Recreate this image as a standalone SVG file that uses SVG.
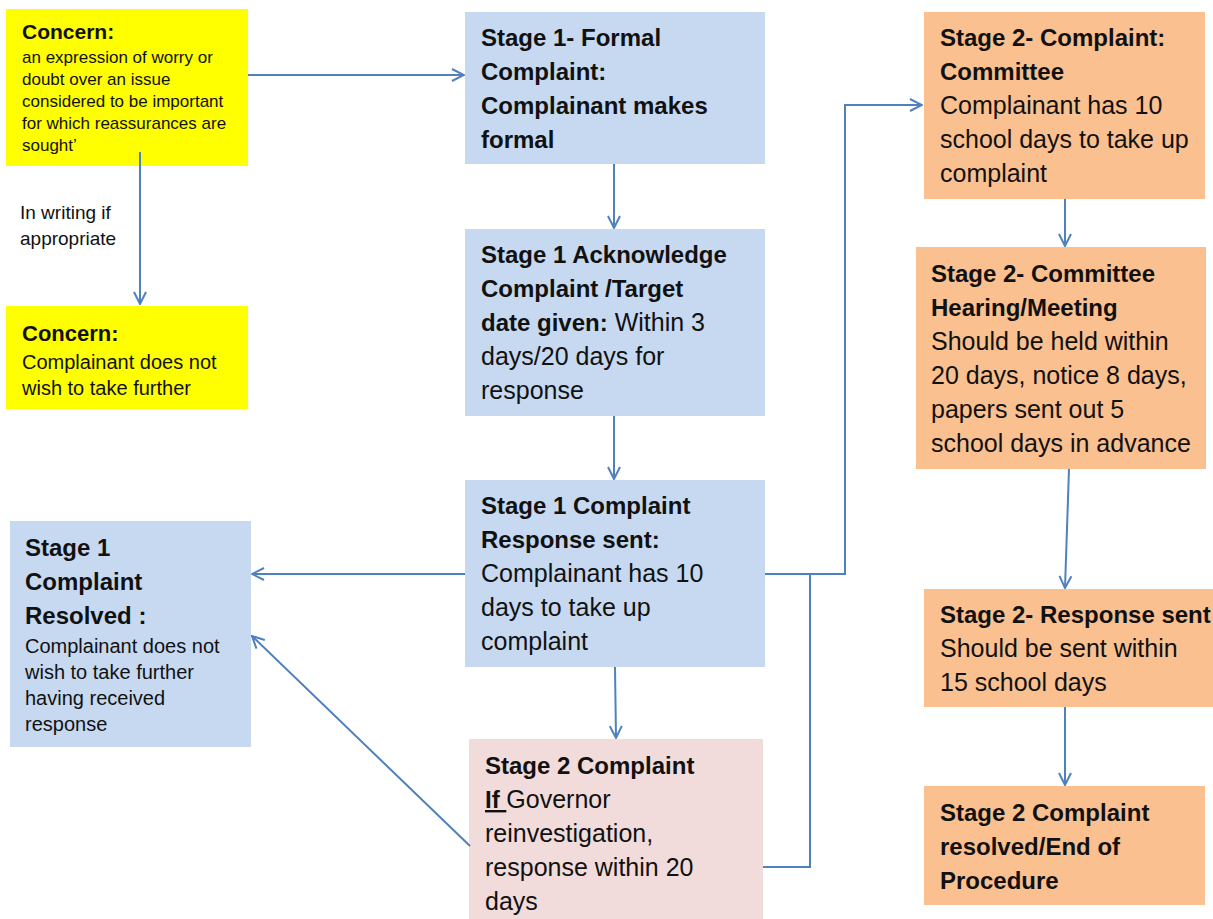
<svg xmlns="http://www.w3.org/2000/svg" width="1213" height="919" viewBox="0 0 1213 919">
<style>
text{font-family:"Liberation Sans",Arial,sans-serif;fill:#111;}
.b{font-weight:bold;font-size:24px;}
.r{font-size:25px;}
.s{font-size:20px;}
.xs{font-size:17px;}
.yel{fill:#FFFF00;}
.blu{fill:#C6D9F1;}
.pnk{fill:#F2DCDB;}
.org{fill:#FAC090;}
.c{stroke:#4F81BD;stroke-width:2;fill:none;}
</style>
<defs>
<marker id="ah" viewBox="0 0 14 14" refX="13" refY="7" markerWidth="14" markerHeight="14" markerUnits="userSpaceOnUse" orient="auto">
<path d="M1,1 L13,7 L1,13" fill="none" stroke="#4F81BD" stroke-width="2"/>
</marker>
</defs>
<g id="concern1">
<rect class="yel" x="6" y="9" width="242" height="157"/>
<text x="22" y="39" class="b" style="font-size:21px">Concern:</text>
<text class="xs" x="22" y="63">an expression of worry or</text>
<text class="xs" x="22" y="85">doubt over an issue</text>
<text class="xs" x="22" y="107">considered to be important</text>
<text class="xs" x="22" y="129">for which reassurances are</text>
<text class="xs" x="22" y="151">sought’</text>
</g>
<g id="label-writing">
<text x="20" y="219" style="font-size:19px">In writing if</text>
<text x="20" y="245" style="font-size:19px">appropriate</text>
</g>
<g id="concern2">
<rect class="yel" x="6" y="306" width="242" height="103"/>
<text x="22" y="341" class="b" style="font-size:22px">Concern:</text>
<text class="s" x="22" y="369">Complainant does not</text>
<text class="s" x="22" y="395">wish to take further</text>
</g>
<g id="stage1-formal">
<rect class="blu" x="465" y="12" width="300" height="152"/>
<text class="b" x="481" y="46">Stage 1- Formal</text>
<text class="b" x="481" y="80">Complaint:</text>
<text class="b" x="481" y="114">Complainant makes</text>
<text class="b" x="481" y="148">formal</text>
</g>
<g id="stage1-ack">
<rect class="blu" x="465" y="229" width="300" height="187"/>
<text class="b" x="481" y="263">Stage 1 Acknowledge</text>
<text class="b" x="481" y="297">Complaint /Target</text>
<text x="481" y="331"><tspan class="b">date given:</tspan><tspan class="r"> Within 3</tspan></text>
<text class="r" x="481" y="365">days/20 days for</text>
<text class="r" x="481" y="399">response</text>
</g>
<g id="stage1-response">
<rect class="blu" x="465" y="480" width="300" height="187"/>
<text class="b" x="481" y="514">Stage 1 Complaint</text>
<text class="b" x="481" y="548">Response sent:</text>
<text class="r" x="481" y="582">Complainant has 10</text>
<text class="r" x="481" y="616">days to take up</text>
<text class="r" x="481" y="650">complaint</text>
</g>
<g id="stage1-resolved">
<rect class="blu" x="10" y="521" width="241" height="226"/>
<text class="b" x="25" y="556">Stage 1</text>
<text class="b" x="25" y="590">Complaint</text>
<text class="b" x="25" y="624">Resolved :</text>
<text class="s" x="25" y="653">Complainant does not</text>
<text class="s" x="25" y="679">wish to take further</text>
<text class="s" x="25" y="705">having received</text>
<text class="s" x="25" y="731">response</text>
</g>
<g id="stage2-complaint">
<rect class="pnk" x="469" y="739" width="294" height="180"/>
<text class="b" x="485" y="774">Stage 2 Complaint</text>
<text x="485" y="808"><tspan class="b" text-decoration="underline">If </tspan><tspan class="r">Governor</tspan></text>
<text class="r" x="485" y="842">reinvestigation,</text>
<text class="r" x="485" y="876">response within 20</text>
<text class="r" x="485" y="910">days</text>
</g>
<g id="stage2-committee">
<rect class="org" x="924" y="12" width="281" height="187"/>
<text class="b" x="940" y="46">Stage 2- Complaint:</text>
<text class="b" x="940" y="80">Committee</text>
<text class="r" x="940" y="114">Complainant has 10</text>
<text class="r" x="940" y="148">school days to take up</text>
<text class="r" x="940" y="182">complaint</text>
</g>
<g id="stage2-hearing">
<rect class="org" x="916" y="247" width="290" height="222"/>
<text class="b" x="931" y="282">Stage 2- Committee</text>
<text class="b" x="931" y="316">Hearing/Meeting</text>
<text class="r" x="931" y="350">Should be held within</text>
<text class="r" x="931" y="384">20 days, notice 8 days,</text>
<text class="r" x="931" y="418">papers sent out 5</text>
<text class="r" x="931" y="452">school days in advance</text>
</g>
<g id="stage2-response">
<rect class="org" x="924" y="589" width="289" height="118"/>
<text class="b" x="940" y="623">Stage 2- Response sent</text>
<text class="r" x="940" y="657">Should be sent within</text>
<text class="r" x="940" y="691">15 school days</text>
</g>
<g id="stage2-resolved">
<rect class="org" x="924" y="786" width="281" height="119"/>
<text class="b" x="940" y="821">Stage 2 Complaint</text>
<text class="b" x="940" y="855">resolved/End of</text>
<text class="b" x="940" y="889">Procedure</text>
</g>
<g id="connectors">
<path class="c" d="M248,75 H464" marker-end="url(#ah)"/>
<path class="c" d="M140,152 V304" marker-end="url(#ah)"/>
<path class="c" d="M614,164 V228" marker-end="url(#ah)"/>
<path class="c" d="M614,416 V479" marker-end="url(#ah)"/>
<path class="c" d="M465,574 H252" marker-end="url(#ah)"/>
<path class="c" d="M615,667 L616,738" marker-end="url(#ah)"/>
<path class="c" d="M470,846 L252,636" marker-end="url(#ah)"/>
<path class="c" d="M765,574 H845 V105 H922" marker-end="url(#ah)"/>
<path class="c" d="M763,867 H810 V574"/>
<path class="c" d="M1065,199 V246" marker-end="url(#ah)"/>
<path class="c" d="M1069,469 L1065,588" marker-end="url(#ah)"/>
<path class="c" d="M1065,707 V785" marker-end="url(#ah)"/>
</g>
</svg>
